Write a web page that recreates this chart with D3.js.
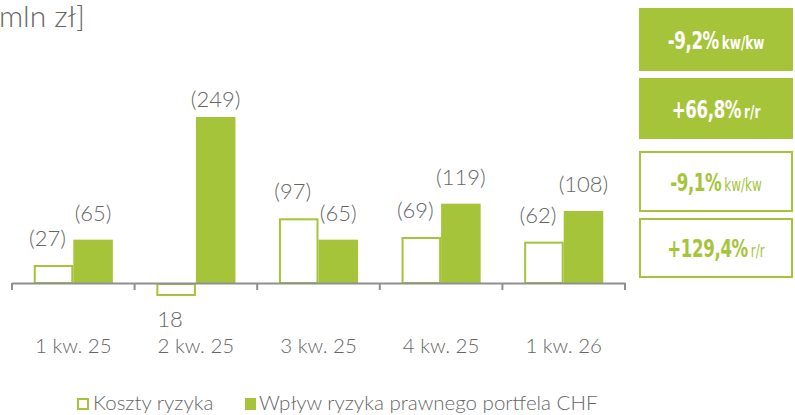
<!DOCTYPE html>
<html><head><meta charset="utf-8">
<script src="https://cdn.jsdelivr.net/npm/d3@7"></script>
<style>
body{margin:0;background:#fff;}
svg{display:block;}
.lt{font-family:"Lato","Open Sans",sans-serif;font-weight:300;fill:#666;}
.kpi{font-family:"DejaVu Sans Condensed","DejaVu Sans",sans-serif;font-weight:700;}
</style></head>
<body>
<svg id="c" width="795" height="415"></svg>
<script>
const categories = ["1 kw. 25","2 kw. 25","3 kw. 25","4 kw. 25","1 kw. 26"];
const kosztyRyzyka = [27, -18, 97, 69, 62];
const wplywCHF = [65, 249, 65, 119, 108];
const seriesNames = ["Koszty ryzyka","Wpływ ryzyka prawnego portfela CHF"];
const kpiValues = ["-9,2%","+66,8%","-9,1%","+129,4%"];
const kpiSuffix = ["kw/kw","r/r","kw/kw","r/r"];
const kpiFilled = [true,true,false,false];
const unitLabel = "[mln zł]";

const green = "#a6c43a";
const svg = d3.select("#c");

const x0 = d3.scaleBand().domain(categories).range([12, 625]).paddingInner(0).paddingOuter(0);
const x1 = d3.scaleBand().domain([0,1]).range([0, x0.bandwidth()]).paddingInner(0).paddingOuter(0.55);
const y = d3.scaleLinear().domain([0, 249]).range([283, 117]);

// unit label
svg.append("text").attr("class","lt").attr("x",85).attr("y",27)
  .attr("text-anchor","end").style("font-size","30px").text(unitLabel);

const rows = categories.map((c,i)=>({c, k:kosztyRyzyka[i], w:wplywCHF[i]}));

// hollow bars
svg.selectAll(".hb").data(rows).enter().append("rect")
  .attr("x", d=>x0(d.c)+x1(0)+1)
  .attr("width", x1.bandwidth()-2)
  .attr("y", d=>Math.min(y(d.k),y(0))+1)
  .attr("height", d=>Math.abs(y(d.k)-y(0))-1)
  .attr("fill","#fff").attr("stroke",green).attr("stroke-width",2);

// filled bars
svg.selectAll(".fb").data(rows).enter().append("rect")
  .attr("x", d=>x0(d.c)+x1(1))
  .attr("width", x1.bandwidth())
  .attr("y", d=>y(d.w))
  .attr("height", d=>y(0)-y(d.w))
  .attr("fill",green);

// axis
const ax = svg.append("g").attr("transform",`translate(0,${y(0)})`)
  .call(d3.axisBottom(x0).tickSize(0).tickFormat(""));
ax.select(".domain").attr("stroke","#8f8f8f").attr("stroke-width",2);
const tickXs = categories.map(c=>x0(c)).concat([x0.range()[1]]);
svg.selectAll(".tk").data(tickXs).enter().append("line")
  .attr("x1",d=>d).attr("x2",d=>d).attr("y1",y(0)).attr("y2",y(0)+7)
  .attr("stroke","#8f8f8f").attr("stroke-width",2);

// category labels
svg.selectAll(".cl").data(categories).enter().append("text").attr("class","lt")
  .attr("x", d=>x0(d)+x0.bandwidth()/2).attr("y",353)
  .attr("text-anchor","middle").style("font-size","20.5px").text(d=>d);

const fmt = v => v>0 ? `(${v})` : `${Math.abs(v)}`;
const plotTop = 107;
// hollow labels
svg.selectAll(".hl").data(rows).enter().append("text").attr("class","lt")
  .attr("x", d=>x0(d.c)+x1(0)+x1.bandwidth()/2-6)
  .attr("y", d=> d.k>=0 ? Math.max(y(d.k)-19, plotTop) : y(d.k)+32)
  .attr("text-anchor","middle").style("font-size","22px").text(d=>fmt(d.k));
// filled labels
svg.selectAll(".fl").data(rows).enter().append("text").attr("class","lt")
  .attr("x", d=>x0(d.c)+x1(1)+x1.bandwidth()/2)
  .attr("y", d=> Math.max(y(d.w)-19, plotTop))
  .attr("text-anchor","middle").style("font-size","22px").text(d=>fmt(d.w));

// legend
const lg = svg.append("g");
lg.append("rect").attr("x",78).attr("y",399).attr("width",10).attr("height",10)
  .attr("fill","#fff").attr("stroke",green).attr("stroke-width",2);
lg.append("text").attr("class","lt").attr("x",93).attr("y",410).style("font-size","20.5px").text(seriesNames[0]);
lg.append("rect").attr("x",245).attr("y",398).attr("width",11).attr("height",12).attr("fill",green);
lg.append("text").attr("class","lt").attr("x",259).attr("y",410).style("font-size","20.5px").text(seriesNames[1]);

// KPI boxes
const boxY = [8, 78, 151, 218];
const boxH = [63, 61, 61, 60];
kpiValues.forEach((v,i)=>{
  const g = svg.append("g");
  g.append("rect").attr("x", kpiFilled[i]?639:640).attr("y", kpiFilled[i]?boxY[i]:boxY[i]+1)
    .attr("width", kpiFilled[i]?154:152).attr("height", kpiFilled[i]?boxH[i]:boxH[i]-2)
    .attr("fill", kpiFilled[i]?green:"#fff").attr("stroke", kpiFilled[i]?"none":green).attr("stroke-width",2);
  const cy = boxY[i]+boxH[i]/2+9;
  const t = g.append("text").attr("class","kpi")
    .attr("transform",`translate(716,${cy}) scale(0.74,1)`)
    .attr("text-anchor","middle").attr("fill", kpiFilled[i]?"#fff":green);
  t.append("tspan").style("font-size","25px").style("letter-spacing","-0.5px").text(v);
  t.append("tspan").style("font-size","18px").attr("dx",4)
    .style("font-weight", kpiFilled[i]?700:400).text(kpiSuffix[i]);
});
</script>
</body></html>
